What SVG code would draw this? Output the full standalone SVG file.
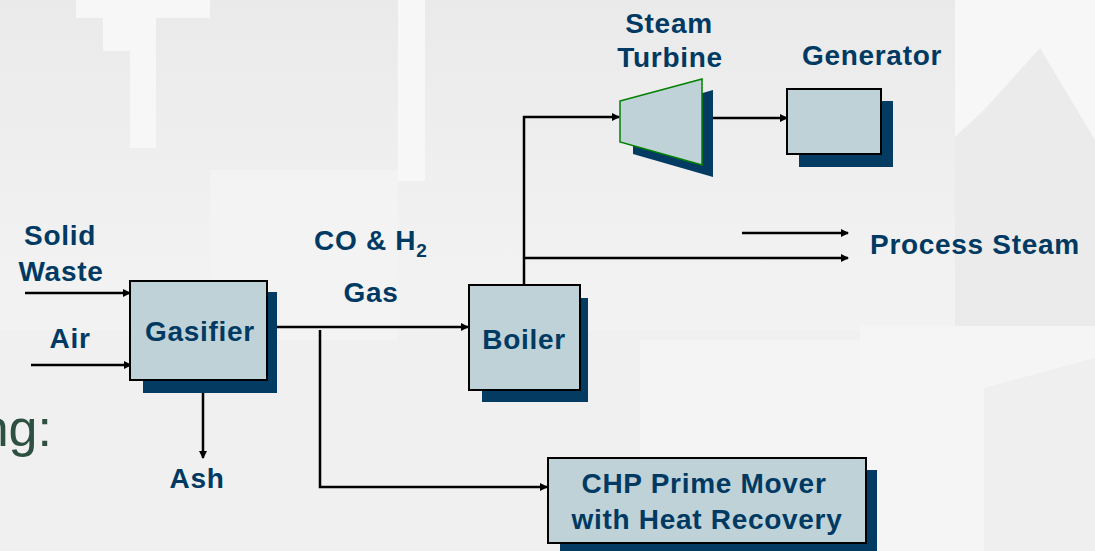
<svg xmlns="http://www.w3.org/2000/svg" width="1095" height="551" viewBox="0 0 1095 551">
<defs>
<linearGradient id="bg" x1="0" y1="0" x2="0" y2="1">
<stop offset="0" stop-color="#eaeaea"/>
<stop offset="0.5" stop-color="#f2f2f2"/>
<stop offset="1" stop-color="#f3f3f3"/>
</linearGradient>
<marker id="ah" markerWidth="8" markerHeight="8" refX="7" refY="4" orient="auto" markerUnits="userSpaceOnUse">
<path d="M0,0 L8,4 L0,8 Z" fill="#000"/>
</marker>
<style>
.t{font-family:"Liberation Sans",Arial,sans-serif;font-weight:bold;font-size:28px;letter-spacing:0.7px;fill:#003a63;}
.box{fill:#bfd2d8;stroke:#000;stroke-width:2;}
.sh{fill:#033b63;}
.ln{fill:none;stroke:#000;stroke-width:2.5;}
.ar{fill:none;stroke:#000;stroke-width:2.5;marker-end:url(#ah);}
</style>
</defs>
<g id="background">
<rect width="1095" height="551" fill="url(#bg)"/>
<path d="M76,0 H210 V18 H156 V148 H130 V51 H103 V18 H76 Z" fill="#f7f7f7"/>
<rect x="398" y="0" width="27" height="181" fill="#f7f7f7"/>
<rect x="0" y="330" width="1095" height="221" fill="#f0f0f0"/>
<rect x="210" y="170" width="188" height="170" fill="#f3f3f3"/>
<rect x="640" y="340" width="460" height="210" fill="#f4f4f4"/>
<path d="M955,0 H1095 V326 H955 Z" fill="#f7f7f7"/>
<path d="M1040,48 L1095,140 V326 H955 V137 L984,110 Z" fill="#ebebeb"/>
<rect x="860" y="326" width="235" height="225" fill="#f5f5f5"/>
<path d="M984,388 L1095,358 V551 H984 Z" fill="#efefef"/>
</g>
<text x="52" y="446" text-anchor="end" style="font-family:'Liberation Sans',Arial,sans-serif;font-size:52px;fill:#2d5040">ng:</text>
<g id="connectors">
<line class="ar" x1="25" y1="293" x2="130" y2="293"/>
<line class="ar" x1="31" y1="365" x2="131" y2="365"/>
<line class="ar" x1="267" y1="327" x2="468" y2="327"/>
<polyline class="ar" points="320,330 320,487 547,487"/>
<line class="ar" x1="203" y1="393" x2="203" y2="458"/>
<polyline class="ar" points="524,285 524,117 619,117"/>
<line class="ar" x1="702" y1="118" x2="787" y2="118"/>
<line class="ar" x1="524" y1="258" x2="848" y2="258"/>
<line class="ar" x1="742" y1="233" x2="848" y2="233"/>
</g>
<g id="gasifier">
<rect class="sh" x="143" y="292" width="134" height="101"/>
<rect class="box" x="130" y="281" width="137" height="99"/>
<text class="t" x="200" y="341" text-anchor="middle">Gasifier</text>
</g>
<g id="boiler">
<rect class="sh" x="482" y="298" width="106" height="104"/>
<rect class="box" x="469" y="285" width="111" height="105"/>
<text class="t" x="524" y="349" text-anchor="middle">Boiler</text>
</g>
<g id="turbine">
<polygon class="sh" points="633,113 713,90 713,177 633,154"/>
<polygon points="620,101 702,79 702,165 620,142" fill="#bfd2d8" stroke="#008000" stroke-width="1.5"/>
</g>
<g id="generator">
<rect class="sh" x="799" y="101" width="94" height="66"/>
<rect class="box" x="787" y="89" width="94" height="65"/>
</g>
<g id="chp">
<rect class="sh" x="560" y="470" width="317" height="81"/>
<rect class="box" x="548" y="458" width="318" height="85"/>
<text class="t" x="704" y="493" text-anchor="middle">CHP Prime Mover</text>
<text class="t" x="707" y="529" text-anchor="middle">with Heat Recovery</text>
</g>
<g id="labels">
<text class="t" x="60" y="245" text-anchor="middle">Solid</text>
<text class="t" x="61" y="281" text-anchor="middle">Waste</text>
<text class="t" x="70" y="348" text-anchor="middle">Air</text>
<text class="t" x="197" y="488" text-anchor="middle">Ash</text>
<text class="t" x="314" y="250">CO &amp; H<tspan font-size="19" dy="7">2</tspan></text>
<text class="t" x="371" y="302" text-anchor="middle">Gas</text>
<text class="t" x="669" y="33" text-anchor="middle">Steam</text>
<text class="t" x="670" y="67" text-anchor="middle">Turbine</text>
<text class="t" x="872" y="65" text-anchor="middle">Generator</text>
<text class="t" x="870" y="254">Process Steam</text>
</g>
</svg>
